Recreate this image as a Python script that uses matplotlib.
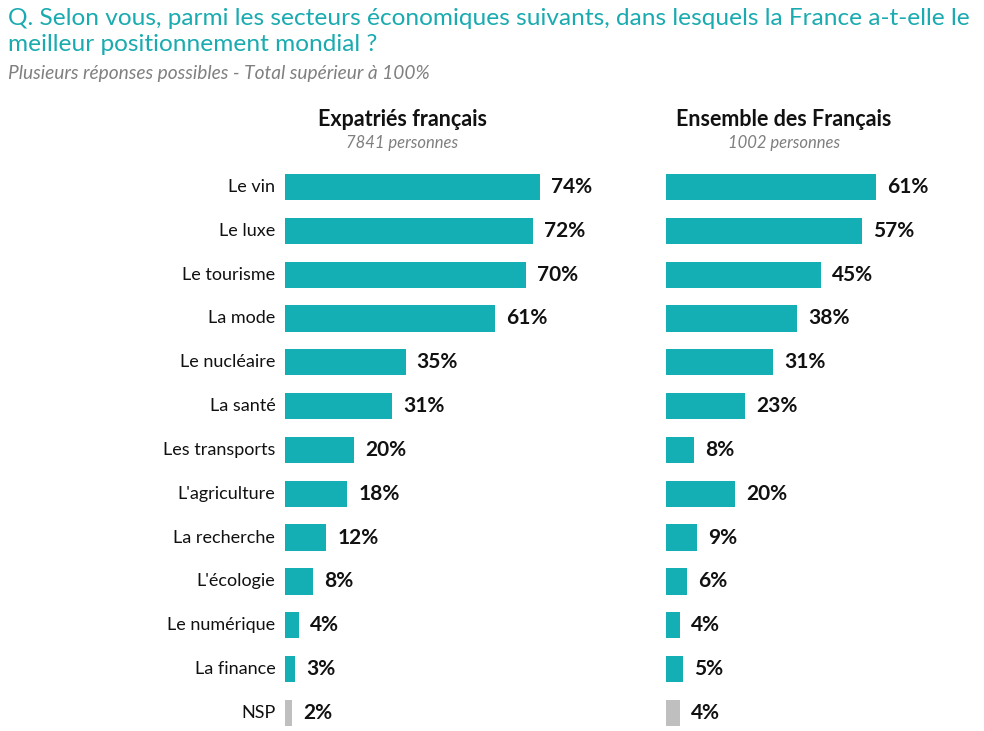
import numpy as np
import matplotlib
matplotlib.use("Agg")
import matplotlib.pyplot as plt

plt.rcParams["font.family"] = ["Lato", "DejaVu Sans"]

# data
categories = ["Le vin", "Le luxe", "Le tourisme", "La mode", "Le nucléaire", "La santé",
              "Les transports", "L'agriculture", "La recherche", "L'écologie",
              "Le numérique", "La finance", "NSP"]
expat = [74, 72, 70, 61, 35, 31, 20, 18, 12, 8, 4, 3, 2]
ensemble = [61, 57, 45, 38, 31, 23, 8, 20, 9, 6, 4, 5, 4]
groups = ["Expatriés français", "Ensemble des Français"]
counts = ["7841 personnes", "1002 personnes"]

TEAL = "#14afb5"
GREY = "#bfbfbf"
W, H = 984, 731

fig = plt.figure(figsize=(W / 100, H / 100), dpi=100)

px_per_pct = 3.446
row0, step = 187, 43.83
ybot = (H - row0) / step
ytop = -0.5
ax_top = row0 - 0.5 * step


def make_ax(x0, xmax):
    width = xmax * px_per_pct
    ax = fig.add_axes([x0 / W, 0, width / W, (H - ax_top) / H])
    ax.set_xlim(0, xmax)
    ax.set_ylim(ybot, ytop)
    ax.axis("off")
    return ax


colors = [TEAL] * (len(categories) - 1) + [GREY]
y = np.arange(len(categories))

for i, (vals, x0, xmax) in enumerate([(expat, 285, 100), (ensemble, 666, (W - 666) / px_per_pct)]):
    ax = make_ax(x0, xmax)
    ax.barh(y, vals, height=0.6, color=colors, edgecolor="none")
    for yy, v in zip(y, vals):
        ax.annotate(f"{v}%", (v, yy), xytext=(8, 0), textcoords="offset points",
                    ha="left", va="center", fontsize=15, fontweight="bold", color="#111111")
    if i == 0:
        for yy, c in zip(y, categories):
            ax.annotate(c, (0, yy), xytext=(-7, 0), textcoords="offset points",
                        ha="right", va="center", fontsize=13, color="#111111")

# column headers
for cx, g, n in zip([402, 784], groups, counts):
    fig.text(cx / W, 1 - 119 / H, g, ha="center", va="center", fontsize=15.5,
             fontweight="bold", color="#111111")
    fig.text(cx / W, 1 - 143 / H, n, ha="center", va="center", fontsize=12,
             style="italic", color="#7f7f7f")

fig.text(8 / W, 1 - 8 / H,
         "Q. Selon vous, parmi les secteurs économiques suivants, dans lesquels la France a-t-elle le\nmeilleur positionnement mondial ?",
         ha="left", va="top", fontsize=17.6, color="#1aabb0", linespacing=1.3)
fig.text(8 / W, 1 - 74 / H, "Plusieurs réponses possibles - Total supérieur à 100%",
         ha="left", va="center", fontsize=13.8, style="italic", color="#808080")

fig.savefig("out.png", dpi=100, facecolor="white")
